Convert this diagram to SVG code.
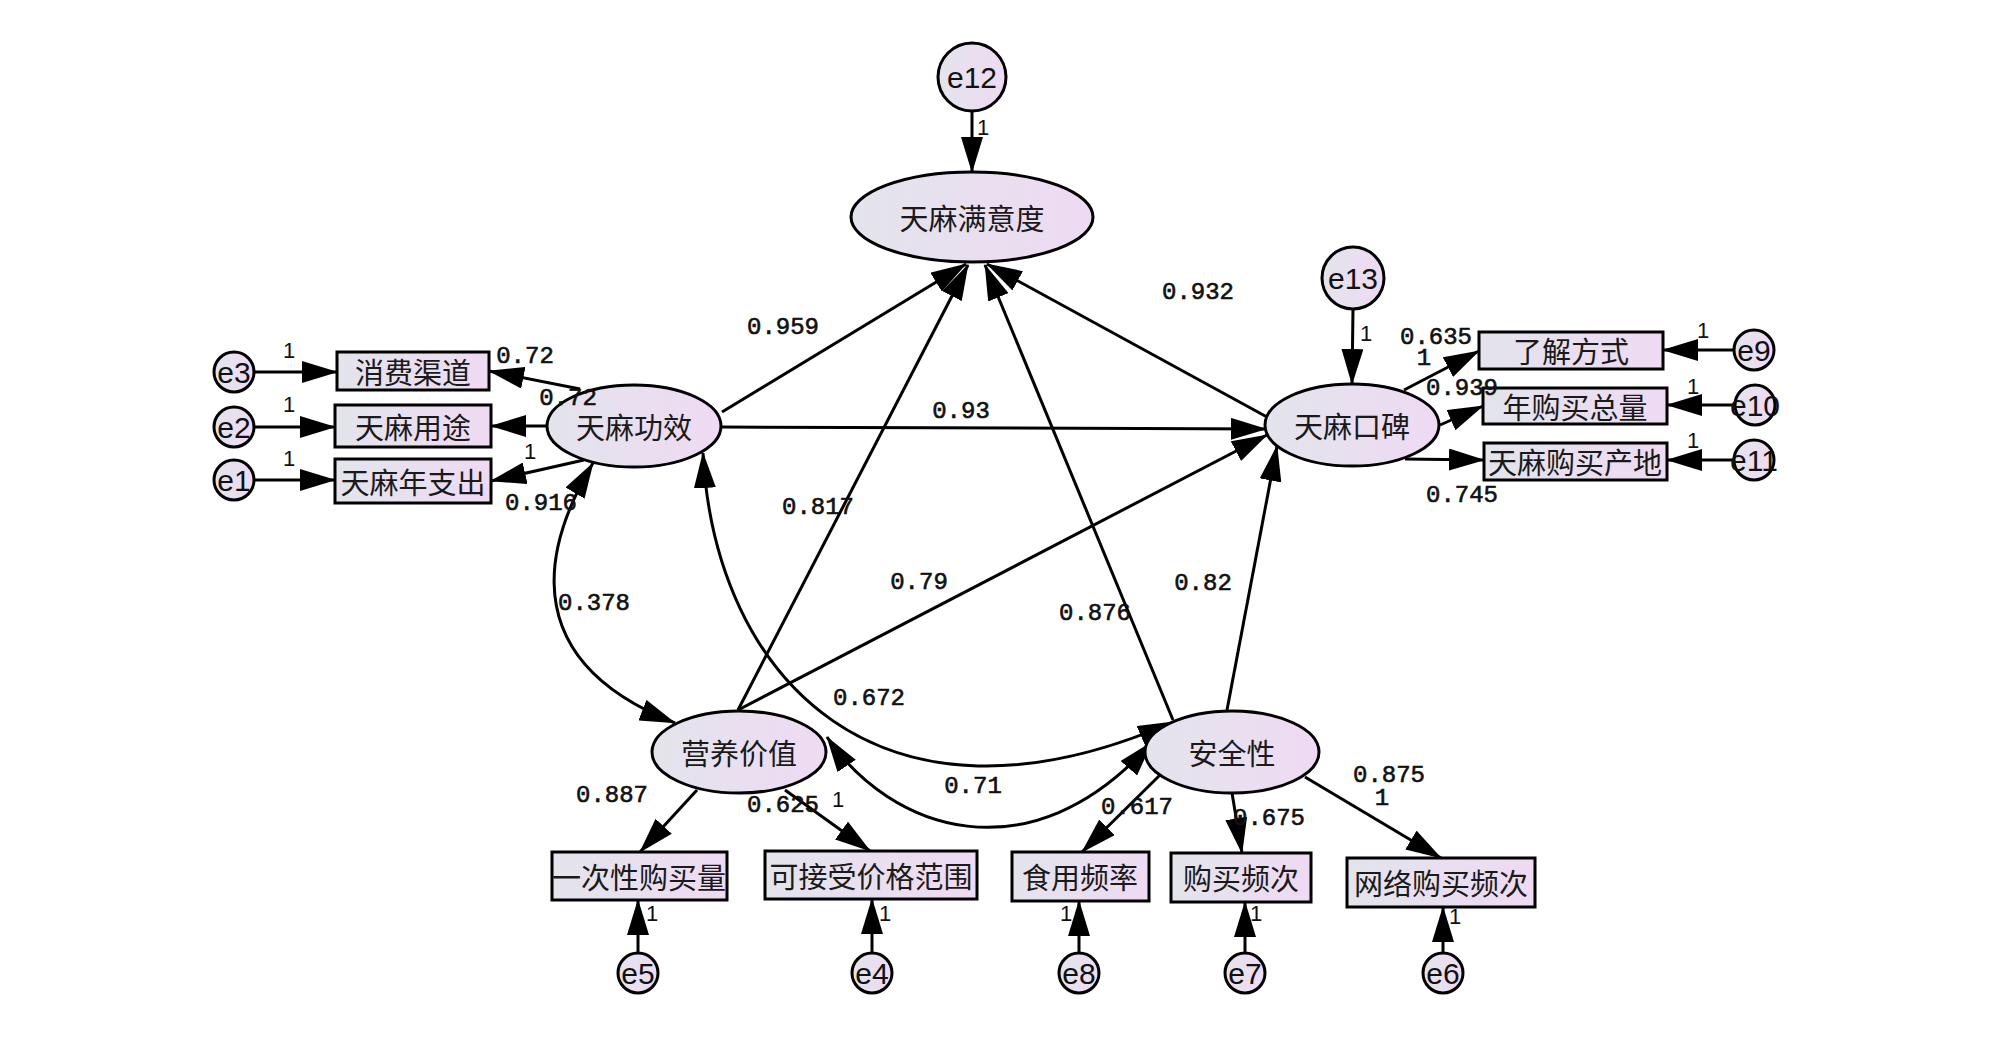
<svg xmlns="http://www.w3.org/2000/svg" width="2000" height="1055" viewBox="0 0 2000 1055">
<defs>
<linearGradient id="fillG" x1="0" y1="0" x2="1" y2="0">
<stop offset="0" stop-color="#e3e4ec"/>
<stop offset="1" stop-color="#efdaf3"/>
</linearGradient>
<marker id="ah" viewBox="0 0 36 22" refX="35" refY="11" markerWidth="36" markerHeight="22" markerUnits="userSpaceOnUse" orient="auto-start-reverse">
<path d="M0,0 L36,11 L0,22 z" fill="#000"/>
</marker>
<style>
.sh{fill:url(#fillG);stroke:#000;stroke-width:3}
.cn{fill:none;stroke:#000;stroke-width:3;marker-end:url(#ah)}
.cv{fill:none;stroke:#000;stroke-width:3;marker-start:url(#ah);marker-end:url(#ah)}
.zh{font-family:"Noto Sans CJK SC","Noto Sans",sans-serif;font-size:29px;fill:#1a1a1a;text-anchor:middle;dominant-baseline:central}
.ev{font-family:"Liberation Sans",Arial,sans-serif;font-size:30px;fill:#111;text-anchor:middle;dominant-baseline:central}
.num{font-family:"Liberation Mono","DejaVu Sans Mono",monospace;font-size:24px;fill:#111;stroke:#111;stroke-width:0.6;text-anchor:middle;dominant-baseline:central}
.one{font-family:"Liberation Sans",Arial,sans-serif;font-size:22px;fill:#111;text-anchor:middle;dominant-baseline:central}
</style>
</defs>
<rect width="2000" height="1055" fill="#fff"/>

<g id="connectors">
<path class="cn" d="M972,111 L972,172"/>
<path class="cn" d="M1353,309 L1352,384"/>
<path class="cn" d="M722,412 L966,264"/>
<path class="cn" d="M738,710 L968,265"/>
<path class="cn" d="M1173,720 L985,265"/>
<path class="cn" d="M1267,417 L987,264"/>
<path class="cn" d="M722,427 L1266,429"/>
<path class="cn" d="M738,710 L1267,435"/>
<path class="cn" d="M1227,710 L1277,446"/>
<path class="cn" d="M580,389 L489,371"/>
<path class="cn" d="M547,426 L491,426"/>
<path class="cn" d="M584,460 L491,481"/>
<path class="cn" d="M254,372 L337,372"/>
<path class="cn" d="M254,427 L335,427"/>
<path class="cn" d="M254,480 L335,480"/>
<path class="cn" d="M1404,390 L1479,351"/>
<path class="cn" d="M1440,425 L1483,406"/>
<path class="cn" d="M1405,459 L1484,460"/>
<path class="cn" d="M1734,350 L1663,350"/>
<path class="cn" d="M1735,405 L1667,405"/>
<path class="cn" d="M1734,460 L1667,460"/>
<path class="cn" d="M697,790 L640,852"/>
<path class="cn" d="M785,790 L870,851"/>
<path class="cn" d="M638,953 L638,900"/>
<path class="cn" d="M872,953 L872,899"/>
<path class="cn" d="M1160,775 L1082,852"/>
<path class="cn" d="M1232,793 L1242,853"/>
<path class="cn" d="M1305,777 L1441,858"/>
<path class="cn" d="M1079,953 L1079,901"/>
<path class="cn" d="M1245,953 L1245,902"/>
<path class="cn" d="M1443,953 L1443,907"/>
<path class="cv" d="M593,463 C565,510 490,650 675,723"/>
<path class="cv" d="M703,453 C715,680 880,850 1173,722"/>
<path class="cv" d="M827,737 C890,830 1030,880 1152,742"/>
</g>

<g id="satisfaction"><ellipse class="sh" cx="972" cy="217" rx="121" ry="45"/><text class="zh" x="972" y="217">天麻满意度</text></g>
<g id="efficacy"><ellipse class="sh" cx="634" cy="426" rx="87" ry="41"/><text class="zh" x="634" y="426">天麻功效</text></g>
<g id="reputation"><ellipse class="sh" cx="1352" cy="425" rx="87" ry="41"/><text class="zh" x="1352" y="425">天麻口碑</text></g>
<g id="nutrition"><ellipse class="sh" cx="739" cy="752" rx="87" ry="41"/><text class="zh" x="739" y="752">营养价值</text></g>
<g id="safety"><ellipse class="sh" cx="1232" cy="752" rx="87" ry="41"/><text class="zh" x="1232" y="752">安全性</text></g>

<g id="b-channel"><rect class="sh" x="337" y="352" width="152" height="38"/><text class="zh" x="413" y="371">消费渠道</text></g>
<g id="b-use"><rect class="sh" x="335" y="405" width="156" height="42"/><text class="zh" x="413" y="426">天麻用途</text></g>
<g id="b-spend"><rect class="sh" x="335" y="459" width="156" height="44"/><text class="zh" x="413" y="481">天麻年支出</text></g>
<g id="b-learn"><rect class="sh" x="1479" y="332" width="184" height="37"/><text class="zh" x="1571" y="350">了解方式</text></g>
<g id="b-annual"><rect class="sh" x="1483" y="388" width="184" height="36"/><text class="zh" x="1575" y="406">年购买总量</text></g>
<g id="b-origin"><rect class="sh" x="1484" y="443" width="183" height="37"/><text class="zh" x="1575" y="461">天麻购买产地</text></g>
<g id="b-once"><rect class="sh" x="552" y="852" width="175" height="48"/><text class="zh" x="639" y="876">一次性购买量</text></g>
<g id="b-price"><rect class="sh" x="765" y="851" width="212" height="48"/><text class="zh" x="871" y="875">可接受价格范围</text></g>
<g id="b-eat"><rect class="sh" x="1012" y="852" width="137" height="49"/><text class="zh" x="1080" y="876">食用频率</text></g>
<g id="b-buy"><rect class="sh" x="1171" y="853" width="140" height="49"/><text class="zh" x="1241" y="877">购买频次</text></g>
<g id="b-online"><rect class="sh" x="1347" y="858" width="188" height="49"/><text class="zh" x="1441" y="882">网络购买频次</text></g>

<g id="e12"><circle class="sh" cx="972" cy="77" r="34"/><text class="ev" x="972" y="77">e12</text></g>
<g id="e13"><circle class="sh" cx="1353" cy="278" r="31"/><text class="ev" x="1353" y="278">e13</text></g>
<g id="e3"><circle class="sh" cx="234" cy="372" r="20"/><text class="ev" x="234" y="372">e3</text></g>
<g id="e2"><circle class="sh" cx="234" cy="427" r="20"/><text class="ev" x="234" y="427">e2</text></g>
<g id="e1"><circle class="sh" cx="234" cy="480" r="20"/><text class="ev" x="234" y="480">e1</text></g>
<g id="e9"><circle class="sh" cx="1754" cy="350" r="20"/><text class="ev" x="1754" y="350">e9</text></g>
<g id="e10"><circle class="sh" cx="1755" cy="405" r="20"/><text class="ev" x="1755" y="405">e10</text></g>
<g id="e11"><circle class="sh" cx="1754" cy="460" r="20"/><text class="ev" x="1754" y="460">e11</text></g>
<g id="e5"><circle class="sh" cx="638" cy="973" r="20"/><text class="ev" x="638" y="973">e5</text></g>
<g id="e4"><circle class="sh" cx="872" cy="973" r="20"/><text class="ev" x="872" y="973">e4</text></g>
<g id="e8"><circle class="sh" cx="1079" cy="973" r="20"/><text class="ev" x="1079" y="973">e8</text></g>
<g id="e7"><circle class="sh" cx="1245" cy="973" r="20"/><text class="ev" x="1245" y="973">e7</text></g>
<g id="e6"><circle class="sh" cx="1443" cy="973" r="20"/><text class="ev" x="1443" y="973">e6</text></g>

<g id="labels">
<text class="num" x="783" y="327">0.959</text>
<text class="num" x="1198" y="292">0.932</text>
<text class="num" x="961" y="411">0.93</text>
<text class="num" x="818" y="507">0.817</text>
<text class="num" x="919" y="582">0.79</text>
<text class="num" x="594" y="603">0.378</text>
<text class="num" x="1095" y="613">0.876</text>
<text class="num" x="1203" y="583">0.82</text>
<text class="num" x="869" y="698">0.672</text>
<text class="num" x="973" y="786">0.71</text>
<text class="num" x="612" y="795">0.887</text>
<text class="num" x="783" y="805">0.625</text>
<text class="num" x="1137" y="807">0.617</text>
<text class="num" x="1269" y="818">0.675</text>
<text class="num" x="1389" y="775">0.875</text>
<text class="num" x="1382" y="798">1</text>
<text class="num" x="541" y="503">0.916</text>
<text class="num" x="525" y="356">0.72</text>
<text class="num" x="568" y="398">0.72</text>
<text class="num" x="1436" y="337">0.635</text>
<text class="num" x="1424" y="358">1</text>
<text class="num" x="1462" y="388">0.939</text>
<text class="num" x="1462" y="495">0.745</text>
<text class="one" x="983" y="127">1</text>
<text class="one" x="1366" y="333">1</text>
<text class="one" x="289" y="350">1</text>
<text class="one" x="289" y="404">1</text>
<text class="one" x="289" y="458">1</text>
<text class="one" x="530" y="451">1</text>
<text class="one" x="1703" y="330">1</text>
<text class="one" x="1693" y="386">1</text>
<text class="one" x="1693" y="440">1</text>
<text class="one" x="838" y="799">1</text>
<text class="one" x="652" y="913">1</text>
<text class="one" x="885" y="913">1</text>
<text class="one" x="1066" y="913">1</text>
<text class="one" x="1256" y="913">1</text>
<text class="one" x="1455" y="916">1</text>
</g>
</svg>
